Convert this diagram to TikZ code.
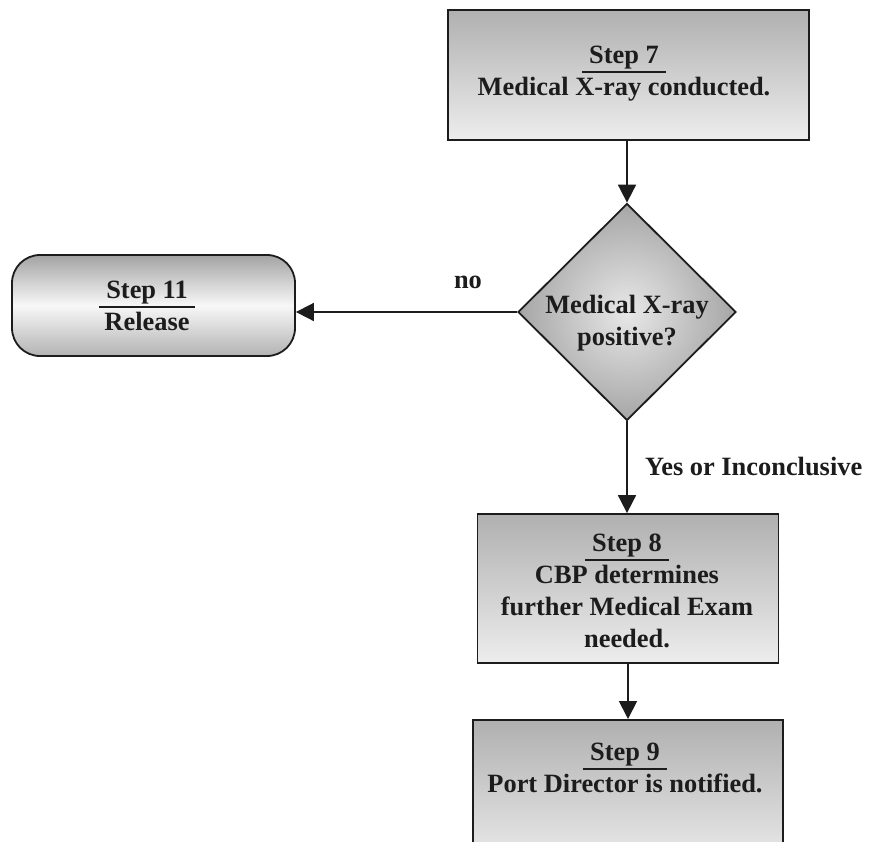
\documentclass[tikz,border=0pt]{standalone}
\usepackage{fontspec}
\setmainfont{Liberation Serif}
\usetikzlibrary{shapes.geometric,arrows.meta}

\definecolor{ink}{HTML}{1C1C1C}

% step heading with a rule running a little past both ends
\newcommand\stephead[1]{\leavevmode\setbox0\hbox{#1}%
  \rlap{\hspace{-7pt}\smash{\rule[-9.5pt]{\dimexpr\wd0+14pt\relax}{1.6pt}}}\box0}

\begin{document}
\begin{tikzpicture}[x=1pt,y=-1pt,
  stepbox/.style={draw=ink, line width=1.8pt, inner sep=0pt,
    top color=gray!62, bottom color=gray!14},
  endbox/.style={draw=ink, line width=1.8pt, inner sep=0pt, rounded corners=28pt,
    top color=gray!72, bottom color=gray!60, middle color=gray!6},
  decision/.style={diamond, draw=ink, line width=1.8pt, inner sep=0pt, aspect=1,
    inner color=gray!18, outer color=gray!70},
  txt/.style={font=\bfseries\fontsize{26.4}{32}\selectfont, align=center,
    text=ink, inner sep=0pt, anchor=base},
  flow/.style={draw=ink, line width=1.8pt, -{Triangle[length=18pt,width=18pt]}},
]
\clip (0,0) rectangle (869,841);
\fill[white] (0,0) rectangle (869,841);

% boxes
\node[stepbox, minimum width=361pt, minimum height=130pt] (s7) at (628.5,75) {};
\node[decision, minimum width=218pt, minimum height=217pt] (d) at (627,312) {};
\node[endbox, minimum width=283pt, minimum height=101pt] (r) at (153.5,305.5) {};
\node[stepbox, minimum width=301pt, minimum height=149pt] (s8) at (628,588.5) {};
\node[stepbox, minimum width=310pt, minimum height=150pt, anchor=north] (s9) at (628,719) {};

% texts (placed by the baseline of their last line)
\node[txt] (t7) at (624,95) {\stephead{Step 7}\\Medical X-ray conducted.};
\node[txt] (td) at (627,345) {Medical X-ray\\positive?};
\node[txt] (tr) at (147,330) {\stephead{Step 11}\\Release};
\node[txt] (t8) at (627,647) {\stephead{Step 8}\\CBP determines\\further Medical Exam\\needed.};
\node[txt] (t9) at (625,792) {\stephead{Step 9}\\Port Director is notified.};

% branch labels
\node[txt] (no) at (468,288) {no};
\node[txt, anchor=base west] (yes) at (645,475) {Yes or Inconclusive};

% connectors
\draw[flow] (s7.south -| d.north) -- (d.north);
\draw[flow] (d.west) -- (d.west -| r.east);
\draw[flow] (d.south) -- (d.south |- s8.north);
\draw[flow] (s8.south) -- (s8.south |- s9.north);
\end{tikzpicture}
\end{document}
